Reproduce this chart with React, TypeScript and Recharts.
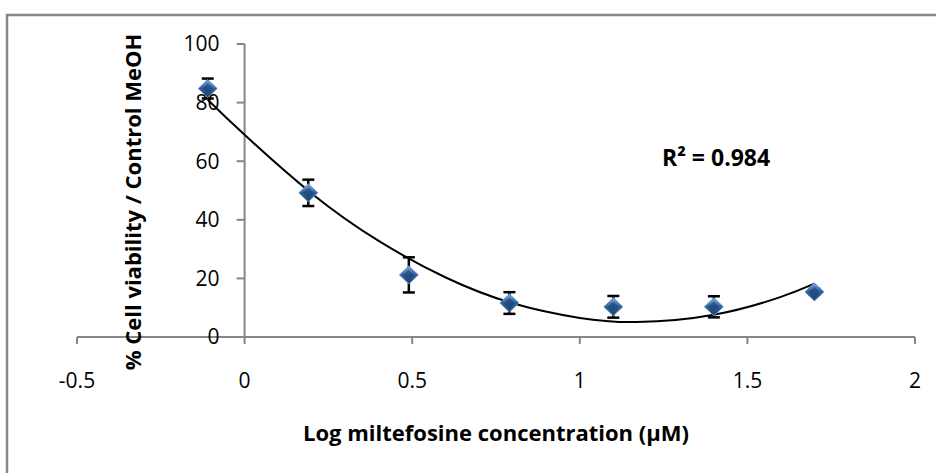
import {
  ComposedChart,
  Line,
  Scatter,
  XAxis,
  YAxis,
  ErrorBar,
  ReferenceLine,
} from 'recharts';

// measured points: log concentration vs % viability, with error bars
const logConc = [-0.11, 0.19, 0.49, 0.79, 1.1, 1.4, 1.7];
const viability = [84.8, 49.2, 21.2, 11.6, 10.3, 10.3, 15.4];
const stdErr = [3.4, 4.5, 6.0, 3.7, 3.7, 3.6, 1.0];

// polynomial trendline
const trendX = [-0.11, 0, 0.2, 0.4, 0.6, 0.8, 1.0, 1.17, 1.4, 1.6, 1.7];
const trendY = [81, 69, 49, 32.8, 20.3, 11.5, 6.5, 5.1, 7.6, 13.7, 18.2];

const xTicks = [-0.5, 0, 0.5, 1, 1.5, 2];
const yTicks = [0, 20, 40, 60, 80, 100];

const points = logConc.map((x, i) => ({ x, y: viability[i], err: stdErr[i] }));
const trend = trendX.map((x, i) => ({ x, y: trendY[i] }));

const FONT = '"Open Sans", "Liberation Sans", sans-serif';
const AXIS = '#868686';

function Diamond(props: any) {
  const { cx, cy } = props;
  if (cx == null || cy == null) return null;
  const w = 9.5;
  const h = 9;
  return (
    <g>
      <polygon
        points={`${cx},${cy - h} ${cx + w},${cy} ${cx},${cy + h} ${cx - w},${cy}`}
        fill="url(#diamondFill)"
        stroke="#6f9ad0"
        strokeWidth={1}
      />
      <polygon
        points={`${cx},${cy - h + 4} ${cx + w - 4},${cy} ${cx},${cy + h - 4} ${cx - w + 4},${cy}`}
        fill="#1f477a"
        opacity={0.7}
      />
    </g>
  );
}

export default function App() {
  return (
    <div style={{ position: 'absolute', left: 0, top: 0, width: 936, height: 473, background: '#fff' }}>
      <svg width={0} height={0} style={{ position: 'absolute' }}>
        <defs>
          <linearGradient id="diamondFill" x1="0" y1="0" x2="0" y2="1">
            <stop offset="0%" stopColor="#7aa7dc" />
            <stop offset="50%" stopColor="#2f5f98" />
            <stop offset="100%" stopColor="#1b3d69" />
          </linearGradient>
        </defs>
      </svg>
      <ComposedChart
        width={936}
        height={473}
        margin={{ top: 44, right: 21, bottom: 106, left: 77 }}
        style={{ fontFamily: FONT }}
      >
        <XAxis
          dataKey="x"
          type="number"
          domain={[-0.5, 2]}
          ticks={xTicks}
          allowDataOverflow
          height={30}
          axisLine={{ stroke: AXIS, strokeWidth: 2 }}
          tickLine={{ stroke: AXIS, strokeWidth: 2 }}
          tickSize={7}
          tickMargin={29}
          tick={{ fill: '#000', fontSize: 21, fontFamily: FONT }}
        />
        <YAxis hide type="number" domain={[0, 100]} ticks={yTicks} />

        {/* vertical axis sits at x = 0 */}
        <ReferenceLine x={0} stroke={AXIS} strokeWidth={2} />
        {yTicks.map((t) => (
          <ReferenceLine
            key={t}
            segment={[
              { x: -0.024, y: t },
              { x: 0, y: t },
            ]}
            stroke={AXIS}
            strokeWidth={2}
            ifOverflow="visible"
            label={{
              value: String(t),
              position: 'left',
              offset: 17,
              fill: '#000',
              fontSize: 21,
              fontFamily: FONT,
            }}
          />
        ))}

        <Line
          data={trend}
          dataKey="y"
          type="natural"
          stroke="#000"
          strokeWidth={2}
          dot={false}
          activeDot={false}
          isAnimationActive={false}
        />
        <Scatter data={points} dataKey="y" shape={<Diamond />} isAnimationActive={false}>
          <ErrorBar dataKey="err" direction="y" width={6} stroke="#000" strokeWidth={2.5} />
        </Scatter>
      </ComposedChart>

      <svg
        width={936}
        height={473}
        style={{ position: 'absolute', left: 0, top: 0, pointerEvents: 'none' }}
      >
        <rect x={7} y={15} width={1000} height={1000} fill="none" stroke="#888" strokeWidth={2.5} />
        <text
          x={132}
          y={202}
          transform="rotate(-90, 132, 202)"
          textAnchor="middle"
          dominantBaseline="central"
          fontFamily={FONT}
          fontWeight="bold"
          fontSize={22}
          fill="#000"
        >
          % Cell viability / Control MeOH
        </text>
        <text
          x={496}
          y={432}
          textAnchor="middle"
          dominantBaseline="central"
          fontFamily={FONT}
          fontWeight="bold"
          fontSize={22}
          fill="#000"
        >
          Log miltefosine concentration (μM)
        </text>
        <text
          x={662}
          y={157}
          dominantBaseline="central"
          fontFamily={FONT}
          fontWeight="bold"
          fontSize={23}
          fill="#000"
        >
          R² = 0.984
        </text>
      </svg>
    </div>
  );
}
